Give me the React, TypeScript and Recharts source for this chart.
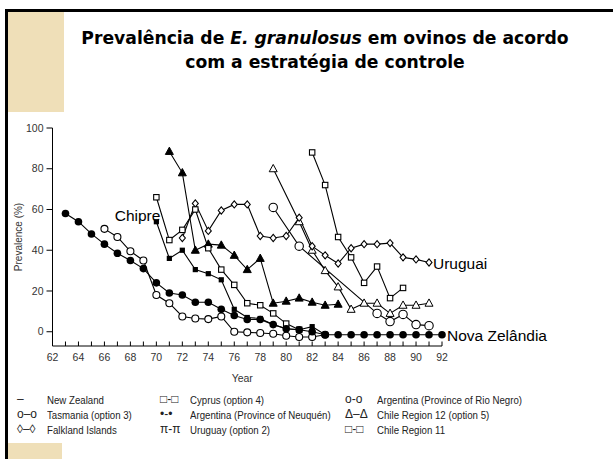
import { Line, LineChart, ReferenceDot, XAxis, YAxis } from "recharts";

// year ticks (one per year, labels on even years)
const yearTicks = Array.from({ length: 31 }, (_, i) => 62 + i);
const valueTicks = [0, 20, 40, 60, 80, 100];

const nzYears = [63, 64, 65, 66, 67, 68, 69, 70, 71, 72, 73, 74, 75, 76, 77, 78, 79, 80, 81, 82, 83, 84, 85, 86, 87, 88, 89, 90, 91, 92];
const nzValues = [58, 54, 48, 43, 38.5, 35, 31, 24, 19, 18, 14.5, 14.5, 11, 8, 6, 6, 3.5, 1.5, 1, 0, -1.5, -1.5, -1.5, -1.5, -1.5, -1.5, -1.5, -1.5, -1.5, -1.5];

const tasYears = [66, 67, 68, 69, 70, 71, 72, 73, 74, 75, 76, 77, 78, 79, 80, 81, 82, 83];
const tasValues = [50.5, 46.5, 39.5, 35, 18, 14, 7.5, 6.5, 6.2, 7.5, 0, -0.3, -0.6, -1, -2, -2.6, -2.6, -1.5];

const cyprusYears = [70, 71, 72, 73, 74, 75, 76, 77, 78, 79, 80, 81];
const cyprusValues = [66, 45, 50, 60, 41, 30.5, 23, 14, 13, 9, 4, 1];

const neuquenYears = [70, 71, 72, 73, 74, 75, 76, 77, 78, 79, 80, 81, 82, 83];
const neuquenValues = [54, 36, 40, 30.5, 28.5, 25.5, 11, 7, 6.5, 3.5, 1.5, 1, 2.5, -1.5];

const uruguayYears = [71, 72, 73, 74, 75, 76, 77, 78, 79, 80, 81, 82, 83, 84];
const uruguayValues = [88.5, 78, 40, 43, 42.5, 37.5, 30.5, 36, 14, 15, 16.5, 14.5, 13, 13.5];

const falklandYears = [72, 73, 74, 75, 76, 77, 78, 79, 80, 81, 82, 83, 84, 85, 86, 87, 88, 89, 90, 91];
const falklandValues = [46, 63, 49.5, 59.5, 62.5, 62.5, 47, 46, 47, 56, 42, 37.5, 33.5, 41, 43, 43, 43.5, 36.5, 35.5, 34];

const rioNegroYears = [79, 81, 87, 88, 89, 90, 91];
const rioNegroValues = [61, 42, 9, 5, 8.5, 3.5, 3];

const chile12Years = [79, 81, 82, 83, 84, 85, 86, 87, 88, 89, 90, 91];
const chile12Values = [80, 54, 40, 30, 22, 11, 14, 14, 9, 13, 13, 14];

const chile11Years = [82, 83, 84, 85, 86, 87, 88, 89];
const chile11Values = [88, 72, 46.5, 36.5, 24, 32, 16.5, 21.5];

const legendSymbols = [
  ["–", "□-□", "o-o"],
  ["o–o", "•-•", "Δ–Δ"],
  ["◊–◊", "π-π", "□-□"],
];
const legendLabels = [
  ["New Zealand", "Cyprus (option 4)", "Argentina (Province of Rio Negro)"],
  ["Tasmania (option 3)", "Argentina (Province of Neuquén)", "Chile Region 12 (option 5)"],
  ["Falkland Islands", "Uruguay (option 2)", "Chile Region 11"],
];

const zip = (xs: number[], ys: number[]) => xs.map((year, i) => ({ year, value: ys[i] }));

function makeDot(shape: string) {
  return (props: any) => {
    const { cx, cy, index } = props;
    const k = `${shape}-${index}`;
    if (cx == null || cy == null) return <g key={k} />;
    if (shape === "circleFilled") return <circle key={k} cx={cx} cy={cy} r={3.8} fill="#000" />;
    if (shape === "circleOpen") return <circle key={k} cx={cx} cy={cy} r={3.5} fill="#fff" stroke="#000" strokeWidth={1.1} />;
    if (shape === "circleBig") return <circle key={k} cx={cx} cy={cy} r={4.2} fill="#fff" stroke="#000" strokeWidth={1.1} />;
    if (shape === "square") return <rect key={k} x={cx - 2.7} y={cy - 2.7} width={5.4} height={5.4} fill="#fff" stroke="#000" strokeWidth={1.1} />;
    if (shape === "squareFilled") return <rect key={k} x={cx - 2.6} y={cy - 2.6} width={5.2} height={5.2} fill="#000" />;
    if (shape === "diamond")
      return <polygon key={k} points={`${cx},${cy - 3.6} ${cx + 3},${cy} ${cx},${cy + 3.6} ${cx - 3},${cy}`} fill="#fff" stroke="#000" strokeWidth={1.1} />;
    const open = shape === "triangleOpen";
    return (
      <polygon key={k} points={`${cx},${cy - 4.3} ${cx + 4},${cy + 3} ${cx - 4},${cy + 3}`} fill={open ? "#fff" : "#000"} stroke="#000" strokeWidth={1} />
    );
  };
}

function YearTick(props: any) {
  const { x, y, payload } = props;
  const yr = payload.value;
  return (
    <g>
      <line x1={x} x2={x} y1={y} y2={y - 4.5} stroke="#000" strokeWidth={1} />
      {yr % 2 === 0 && (
        <text x={x} y={y + 14.5} textAnchor="middle" fontSize={10.5} fill="#333">
          {yr}
        </text>
      )}
    </g>
  );
}

const series = [
  { name: "Chile Region 11", data: zip(chile11Years, chile11Values), shape: "square" },
  { name: "Chile Region 12", data: zip(chile12Years, chile12Values), shape: "triangleOpen" },
  { name: "Rio Negro", data: zip(rioNegroYears, rioNegroValues), shape: "circleBig" },
  { name: "Falkland Islands", data: zip(falklandYears, falklandValues), shape: "diamond" },
  { name: "Uruguay", data: zip(uruguayYears, uruguayValues), shape: "triangleFilled" },
  { name: "Neuquén", data: zip(neuquenYears, neuquenValues), shape: "squareFilled" },
  { name: "Cyprus", data: zip(cyprusYears, cyprusValues), shape: "square" },
  { name: "Tasmania", data: zip(tasYears, tasValues), shape: "circleOpen" },
  { name: "New Zealand", data: zip(nzYears, nzValues), shape: "circleFilled" },
];

const beige = "#efdfb8";

export default function App() {
  return (
    <div
      style={{
        position: "absolute",
        left: 0,
        top: 0,
        width: 613,
        height: 459,
        background: "#fff",
        overflow: "hidden",
        fontFamily: '"Liberation Sans", Arial, sans-serif',
      }}
    >
      <div style={{ position: "absolute", left: 7, top: 11, width: 57, height: 101, background: beige }} />
      <div style={{ position: "absolute", left: 7, top: 443, width: 55, height: 16, background: beige }} />
      <div style={{ position: "absolute", left: 5, top: 9, width: 608, height: 2.5, background: "#000" }} />
      <div style={{ position: "absolute", left: 5, top: 9, width: 2.5, height: 450, background: "#000" }} />

      <div
        style={{
          position: "absolute",
          left: 40,
          top: 26,
          width: 570,
          textAlign: "center",
          fontFamily: '"DejaVu Sans", sans-serif',
          fontWeight: "bold",
          fontSize: 17.2,
          lineHeight: "24px",
          color: "#000",
        }}
      >
        <div>
          Prevalência de <i>E. granulosus</i> em ovinos de acordo
        </div>
        <div>com a estratégia de controle</div>
      </div>

      <LineChart
        width={613}
        height={459}
        margin={{ top: 128, right: 171, bottom: 83, left: 0 }}
        style={{ position: "absolute", left: 0, top: 0, fontFamily: '"Liberation Sans", Arial, sans-serif' }}
      >
        <XAxis
          dataKey="year"
          type="number"
          domain={[62, 92]}
          ticks={yearTicks}
          interval={0}
          height={30}
          tickSize={0}
          tickMargin={0}
          tickLine={false}
          axisLine={{ stroke: "#000", strokeWidth: 1 }}
          tick={<YearTick />}
          label={{ value: "Year", position: "insideBottom", offset: -6, dx: -5, fontSize: 10.5, fill: "#333" }}
        />
        <YAxis
          type="number"
          domain={[-7, 100]}
          ticks={valueTicks}
          width={52.5}
          tickSize={6}
          tickMargin={3}
          tickLine={{ stroke: "#000" }}
          axisLine={{ stroke: "#000", strokeWidth: 1 }}
          tick={{ fontSize: 10.5, fill: "#333" }}
          label={{ value: "Prevalence (%)", angle: -90, position: "center", dx: -8, fontSize: 10, fill: "#333" }}
        />
        {series.map((s) => (
          <Line
            key={s.name}
            data={s.data}
            dataKey="value"
            type="linear"
            stroke="#000"
            strokeWidth={1.1}
            dot={makeDot(s.shape)}
            activeDot={false}
            isAnimationActive={false}
          />
        ))}
        <ReferenceDot x={70} y={57} r={0} fill="none" stroke="none" label={{ value: "Chipre", position: "left", offset: -4, fontSize: 15.5, fill: "#000" }} />
        <ReferenceDot x={91} y={33.5} r={0} fill="none" stroke="none" label={{ value: "Uruguai", position: "right", offset: 4, fontSize: 15.5, fill: "#000" }} />
        <ReferenceDot x={92} y={-2} r={0} fill="none" stroke="none" label={{ value: "Nova Zelândia", position: "right", offset: 5, fontSize: 15.5, fill: "#000" }} />
      </LineChart>

      {legendLabels.map((row, r) =>
        row.map((label, c) => (
          <div key={`${r}-${c}`}>
            <div
              style={{
                position: "absolute",
                left: [17, 160, 345][c],
                top: 392 + r * 15,
                fontSize: 12,
                lineHeight: "15px",
                color: "#222",
                whiteSpace: "nowrap",
              }}
            >
              {legendSymbols[r][c]}
            </div>
            <div
              style={{
                position: "absolute",
                left: [47, 190, 377][c],
                top: 393 + r * 15,
                fontSize: 11.5,
                lineHeight: "14px",
                color: "#222",
                whiteSpace: "nowrap",
                transform: "scaleX(0.84)",
                transformOrigin: "left center",
              }}
            >
              {label}
            </div>
          </div>
        ))
      )}
    </div>
  );
}
